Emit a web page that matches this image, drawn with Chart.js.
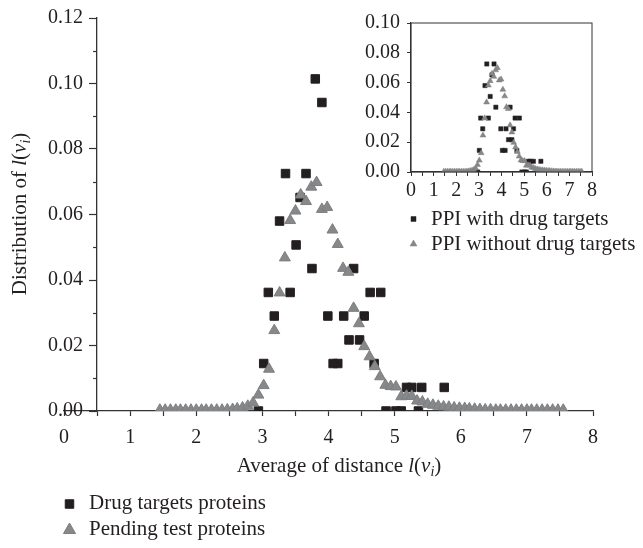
<!DOCTYPE html>
<html>
<head>
<meta charset="utf-8">
<script src="https://cdn.jsdelivr.net/npm/chart.js@4/dist/chart.umd.min.js"></script>
<style>
  html, body { margin: 0; padding: 0; background: #fff; }
  #wrap { position: relative; width: 643px; height: 548px; }
  #main { position: absolute; left: 0; top: 0; }
  #inset { position: absolute; left: 330px; top: 0; }
</style>
</head>
<body>
<div id="wrap">
  <canvas id="main" width="643" height="548"></canvas>
  <canvas id="inset" width="313" height="270"></canvas>
</div>
<script>
// Drug targets proteins (black squares)
const drugX = [2.94, 3.02, 3.09, 3.18, 3.26, 3.35, 3.42, 3.51, 3.57, 3.66, 3.75, 3.80, 3.90, 3.99, 4.07, 4.14,
    4.23, 4.31, 4.38, 4.47, 4.54, 4.63, 4.69, 4.79, 4.87, 5.02, 5.10, 5.18, 5.26, 5.36, 5.41, 5.75];
const drugY = [0.0, 0.0145, 0.0362, 0.029, 0.058, 0.0725, 0.0362, 0.0507, 0.0652, 0.0725, 0.0435, 0.1014, 0.0942, 0.029, 0.0145, 0.0145,
    0.029, 0.0217, 0.0435, 0.0217, 0.029, 0.0362, 0.0145, 0.0362, 0.0, 0.0, 0.0, 0.0072, 0.0072, 0.0, 0.0072, 0.0072];

// Pending test proteins (grey triangles)
const pendX = [1.45, 1.53, 1.61, 1.69, 1.76, 1.84, 1.92, 2.00, 2.08, 2.15, 2.23, 2.31, 2.39, 2.47, 2.55, 2.62, 2.70, 2.78,
    2.86, 2.94, 3.02, 3.10, 3.18, 3.26, 3.34, 3.42, 3.50, 3.58, 3.66, 3.74, 3.82, 3.90, 3.98, 4.06, 4.14, 4.22, 4.30,
    4.38, 4.46, 4.54, 4.62, 4.70, 4.78, 4.86, 4.94, 5.02, 5.10, 5.18, 5.26, 5.34, 5.42, 5.50, 5.58, 5.66, 5.74, 5.82,
    5.90, 5.98, 6.06, 6.13, 6.21, 6.29, 6.37, 6.45, 6.53, 6.60, 6.68, 6.76, 6.84, 6.92, 7.00, 7.07, 7.15, 7.23, 7.31,
    7.39, 7.47, 7.55];
const pendY = [0.0003, 0.0003, 0.0003, 0.0003, 0.0003, 0.0003, 0.0003, 0.0003, 0.0003, 0.0003, 0.0003, 0.0003, 0.0003, 0.0004, 0.0005, 0.0007, 0.001, 0.0015,
    0.0025, 0.0049, 0.0078, 0.0128, 0.0246, 0.0361, 0.0468, 0.0582, 0.0611, 0.066, 0.064, 0.0684, 0.0698, 0.0616, 0.0622, 0.0553, 0.0509, 0.0436, 0.0424,
    0.0314, 0.0267, 0.0197, 0.0166, 0.0136, 0.0105, 0.0079, 0.0075, 0.0074, 0.0044, 0.0046, 0.0045, 0.0031, 0.0028, 0.0021, 0.0018, 0.0015, 0.0013, 0.0012,
    0.001, 0.0009, 0.0008, 0.0007, 0.0006, 0.0005, 0.0004, 0.0004, 0.0003, 0.0003, 0.0003, 0.0003, 0.0003, 0.0003, 0.0003, 0.0003, 0.0003, 0.0003, 0.0003,
    0.0003, 0.0003, 0.0003];

// inset: PPI with drug targets
const ppiDrugX = [2.95, 3.02, 3.08, 3.17, 3.27, 3.35, 3.42, 3.50, 3.58, 3.67, 3.75, 3.97, 4.04, 4.16, 4.20, 4.31, 4.38,
    4.46, 4.53, 4.60, 4.68, 4.79, 4.90, 5.02, 5.10, 5.19, 5.27, 5.41, 5.74];
const ppiDrugY = [0.0, 0.0145, 0.0362, 0.029, 0.058, 0.0725, 0.0362, 0.0507, 0.0652, 0.0725, 0.0435, 0.029, 0.0145, 0.0145, 0.029, 0.0217, 0.0435,
    0.0217, 0.029, 0.0362, 0.0145, 0.0362, 0.0, 0.0, 0.0, 0.0072, 0.0072, 0.0072, 0.0072];
// inset: PPI without drug targets (same distribution as the pending test proteins)
const ppiOtherX = pendX;
const ppiOtherY = pendY;

const mainXTicks = [0, 1, 2, 3, 4, 5, 6, 7, 8];
const mainYTicks = [0, 0.02, 0.04, 0.06, 0.08, 0.10, 0.12];
const insetYTicks = [0, 0.02, 0.04, 0.06, 0.08, 0.10];

const INK = '#231f20';
const GREY = '#87888a';
const SERIF = "'Liberation Serif', 'Times New Roman', serif";

const distParts = [['l', 'i'], ['(', ''], ['v', 'i'], ['i', 'sub'], [')', '']];

function pts(xs, ys) {
    return xs.map((x, i) => ({x: x, y: ys[i]}));
}

function drawRich(ctx, parts, x, y, size, align) {
    const fontFor = s => (s === '' ? '' : 'italic ') + (s === 'sub' ? Math.round(size * 0.68) : size) + 'px ' + SERIF;
    let total = 0;
    parts.forEach(p => { ctx.font = fontFor(p[1]); total += ctx.measureText(p[0]).width; });
    let cx = align === 'center' ? x - total / 2 : x;
    ctx.textAlign = 'left';
    ctx.textBaseline = 'alphabetic';
    parts.forEach(p => {
        ctx.font = fontFor(p[1]);
        ctx.fillText(p[0], cx, p[1] === 'sub' ? y + size * 0.2 : y);
        cx += ctx.measureText(p[0]).width;
    });
}

// titles, legends, y labels of the crossing axis and the inset frame
const figureText = {
    id: 'figureText',
    afterDraw(chart, args, opts) {
        const ctx = chart.ctx;
        const area = chart.chartArea;
        ctx.save();
        ctx.fillStyle = INK;
        if (opts.frame) {
            ctx.strokeStyle = '#333';
            ctx.lineWidth = 1;
            ctx.strokeRect(area.left, area.top, area.right - area.left, area.bottom - area.top);
        }
        if (opts.yLabels) {
            // the y axis crosses x = 0.5, so its labels are set left of that line
            const ys = chart.scales.y;
            const axisX = chart.scales.x.getPixelForValue(opts.yLabels.at);
            ctx.font = opts.yLabels.size + 'px ' + SERIF;
            ctx.textAlign = 'right';
            ctx.textBaseline = 'middle';
            ctx.strokeStyle = '#333';
            ctx.lineWidth = 1.2;
            ys.ticks.forEach(t => {
                const py = ys.getPixelForValue(t.value);
                if (t.label) {
                    ctx.fillText(t.label, axisX - opts.yLabels.gap, py);
                } else {
                    // short minor tick
                    ctx.beginPath();
                    ctx.moveTo(axisX - opts.yLabels.minor, Math.round(py) + 0.5);
                    ctx.lineTo(axisX, Math.round(py) + 0.5);
                    ctx.stroke();
                }
            });
        }
        (opts.titles || []).forEach(t => {
            ctx.save();
            ctx.translate(t.x, t.y);
            if (t.rotate) ctx.rotate(-Math.PI / 2);
            drawRich(ctx, t.parts, 0, 0, t.size, 'center');
            ctx.restore();
        });
        (opts.legend || []).forEach(item => {
            const ds = chart.data.datasets[item.dataset];
            ctx.fillStyle = ds.backgroundColor;
            ctx.strokeStyle = ds.borderColor;
            ctx.lineWidth = ds.borderWidth;
            Chart.helpers.drawPoint(ctx, {pointStyle: ds.pointStyle, radius: item.radius, rotation: 0, borderWidth: ds.borderWidth}, item.x, item.y);
            ctx.fillStyle = INK;
            ctx.font = item.size + 'px ' + SERIF;
            ctx.textAlign = 'left';
            ctx.textBaseline = 'alphabetic';
            ctx.fillText(ds.label, item.textX, item.baseline);
        });
        ctx.restore();
    }
};

function tickFont(size) {
    return {family: SERIF, size: size};
}

new Chart(document.getElementById('main'), {
    type: 'scatter',
    data: {
        datasets: [{
            label: 'Drug targets proteins',
            data: pts(drugX, drugY),
            pointStyle: 'rect',
            pointRadius: 6,
            backgroundColor: INK,
            borderColor: INK,
            borderWidth: 1,
            order: 2
        }, {
            label: 'Pending test proteins',
            data: pts(pendX, pendY),
            pointStyle: 'triangle',
            pointRadius: 6.3,
            backgroundColor: GREY,
            borderColor: '#7d7e80',
            borderWidth: 1,
            order: 1
        }]
    },
    options: {
        responsive: false,
        animation: false,
        devicePixelRatio: 1,
        layout: {padding: {left: 64, right: 50, top: 18, bottom: 93}},
        plugins: {
            legend: {display: false},
            tooltip: {enabled: false},
            figureText: {
                yLabels: {at: 0.5, gap: 14, minor: 4, size: 20},
                titles: [
                    {x: 339, y: 472, size: 21, parts: [['Average of distance ', '']].concat(distParts)},
                    {x: 26, y: 214, size: 21, rotate: true, parts: [['Distribution of ', '']].concat(distParts)}
                ],
                legend: [
                    {dataset: 0, x: 69.5, y: 504, radius: 6, textX: 89, baseline: 509, size: 21},
                    {dataset: 1, x: 69.5, y: 530, radius: 7, textX: 89, baseline: 535, size: 21}
                ]
            }
        },
        scales: {
            x: {
                type: 'linear',
                min: 0,
                max: 8,
                afterFit(scale) { scale.height = 44; },
                border: {color: '#333', width: 1.3},
                grid: {drawOnChartArea: false, color: '#333', tickLength: 5, tickWidth: 1.2},
                ticks: {
                    stepSize: 0.5,
                    padding: 10,
                    maxRotation: 0,
                    autoSkip: false,
                    color: INK,
                    font: tickFont(20),
                    callback: v => mainXTicks.includes(v) ? String(v) : ''
                }
            },
            y: {
                type: 'linear',
                position: {x: 0.5},
                min: 0,
                max: 0.12,
                border: {color: '#333', width: 1.3},
                grid: {
                    drawOnChartArea: false,
                    tickLength: 7,
                    tickWidth: 1.2,
                    // minor ticks are drawn shorter by the plugin
                    tickColor: c => (c.tick && c.tick.label) ? '#333' : 'rgba(0,0,0,0)'
                },
                ticks: {
                    display: false,
                    stepSize: 0.01,
                    callback: v => mainYTicks.some(t => Math.abs(t - v) < 1e-6) ? v.toFixed(2) : ''
                }
            }
        }
    },
    plugins: [figureText]
});

new Chart(document.getElementById('inset'), {
    type: 'scatter',
    data: {
        datasets: [{
            label: 'PPI with drug targets',
            data: pts(ppiDrugX, ppiDrugY),
            pointStyle: 'rect',
            pointRadius: 3,
            backgroundColor: INK,
            borderColor: INK,
            borderWidth: 0.5,
            order: 2
        }, {
            label: 'PPI without drug targets',
            data: pts(ppiOtherX, ppiOtherY),
            pointStyle: 'triangle',
            pointRadius: 3.4,
            backgroundColor: GREY,
            borderColor: '#7d7e80',
            borderWidth: 0.5,
            order: 1
        }]
    },
    options: {
        responsive: false,
        animation: false,
        devicePixelRatio: 1,
        layout: {padding: {left: 21, right: 51, top: 23, bottom: 68}},
        plugins: {
            legend: {display: false},
            tooltip: {enabled: false},
            figureText: {
                frame: true,
                legend: [
                    {dataset: 0, x: 83.5, y: 219, radius: 3.5, textX: 101, baseline: 225, size: 21},
                    {dataset: 1, x: 83.5, y: 244, radius: 4, textX: 101, baseline: 250, size: 21}
                ]
            }
        },
        scales: {
            x: {
                type: 'linear',
                min: 0,
                max: 8,
                afterFit(scale) { scale.height = 30; },
                border: {color: '#333', width: 1.2},
                grid: {drawOnChartArea: false, color: '#333', tickLength: 4, tickWidth: 1},
                ticks: {
                    stepSize: 0.5,
                    padding: 3,
                    maxRotation: 0,
                    autoSkip: false,
                    color: INK,
                    font: tickFont(20),
                    callback: v => Number.isInteger(v) ? String(v) : ''
                }
            },
            y: {
                type: 'linear',
                position: 'left',
                min: 0,
                max: 0.1,
                afterFit(scale) { scale.width = 60; },
                border: {color: '#333', width: 1.2},
                grid: {drawOnChartArea: false, color: '#333', tickLength: 4, tickWidth: 1},
                ticks: {
                    stepSize: 0.01,
                    padding: 7,
                    color: INK,
                    font: tickFont(20),
                    callback: v => insetYTicks.some(t => Math.abs(t - v) < 1e-6) ? v.toFixed(2) : ''
                }
            }
        }
    },
    plugins: [figureText]
});
</script>
</body>
</html>
